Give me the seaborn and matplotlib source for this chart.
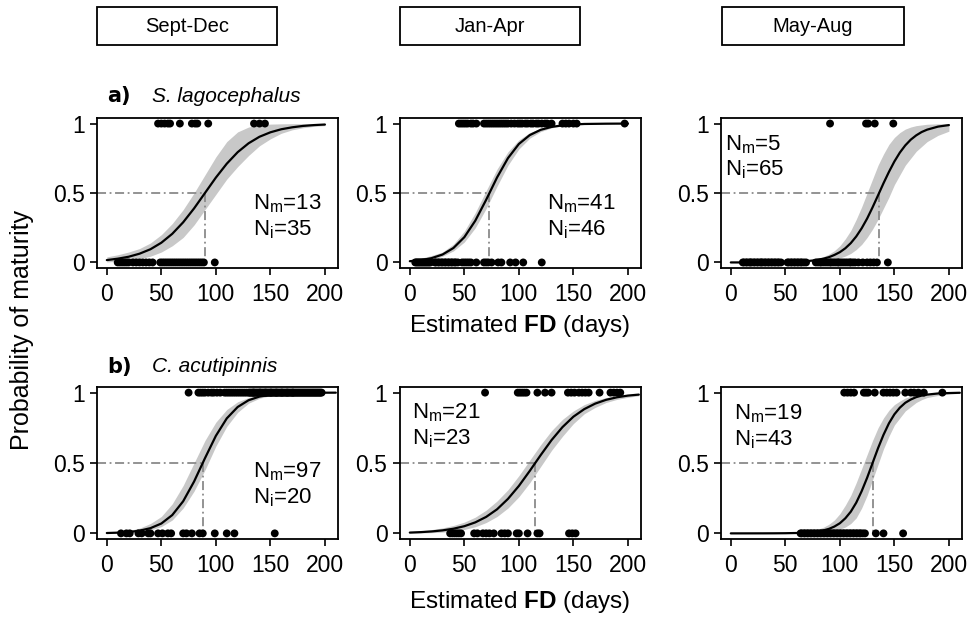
import matplotlib
matplotlib.use("Agg")
import matplotlib.pyplot as plt
import seaborn as sns
import pandas as pd
from matplotlib.patches import Rectangle

# ---- data ----
SEASONS = ["Sept-Dec", "Jan-Apr", "May-Aug"]
SPECIES = ["S. lagocephalus", "C. acutipinnis"]
PANEL_TAGS = ["a)", "b)"]

FD_TICKS = [0, 50, 100, 150, 200]
P_TICKS = [0, 0.5, 1]
P_TICK_LABELS = ["0", "0.5", "1"]

FD_GRID_A = [0, 10, 20, 30, 40, 50, 60, 70, 80, 90, 100, 110, 120, 130, 140, 150, 160, 170, 180, 190, 200]
FD_GRID_B = [0, 10, 20, 30, 40, 50, 60, 70, 80, 90, 100, 110, 120, 130, 140, 150, 160, 170, 180, 190, 200, 210]
# finer grids where the fitted curve is steep
FD_GRID_A3 = [0, 10, 20, 30, 40, 50, 60, 70, 75, 80, 85, 90, 95, 100, 105, 110, 115, 120, 125, 130, 135,
              140, 145, 150, 155, 160, 165, 170, 175, 180, 190, 200]
FD_GRID_B3 = [0, 10, 20, 30, 40, 50, 60, 70, 75, 80, 85, 90, 95, 100, 105, 110, 115, 120, 125, 130, 135,
              140, 145, 150, 155, 160, 165, 170, 175, 180, 190, 200, 210]

# S. lagocephalus
L50_A = [90, 73, 136]
NM_A = [13, 41, 5]
NI_A = [35, 46, 65]

FIT_A1 = [.017, .027, .041, .063, .095, .142, .206, .289, .389, .50, .611, .711, .794, .858, .905, .937, .959, .973, .983, .989, .993]
UPR_A1 = [.040, .055, .075, .10, .14, .20, .28, .38, .50, .63, .76, .87, .94, .975, .99, .996, .998, .999, .999, 1.0, 1.0]
LWR_A1 = [.004, .008, .015, .027, .045, .075, .12, .18, .27, .38, .49, .60, .69, .77, .84, .89, .93, .955, .97, .98, .985]

FIT_A2 = [.009, .016, .031, .057, .104, .182, .30, .451, .612, .751, .853, .917, .955, .976, .987, .993, .997, .998, .999, .9995, .9997]
UPR_A2 = [.02, .03, .05, .075, .132, .225, .358, .516, .672, .797, .882, .935, .965, .981, .99, .995, .997, .999, .999, 1.0, 1.0]
LWR_A2 = [.004, .008, .018, .045, .083, .147, .249, .388, .549, .70, .817, .895, .942, .969, .983, .991, .995, .997, .998, .999, .999]

FIT_A3 = [.0001, .0001, .0003, .0006, .0012, .0024, .0049, .0098, .0138, .0194, .0274, .038, .054, .074, .102,
          .139, .187, .246, .316, .397, .483, .570, .652, .727, .791, .843, .884, .915, .939, .956, .978, .989]
UPR_A3 = [.0005, .0008, .001, .002, .003, .005, .009, .016, .022, .03, .042, .06, .085, .12, .17,
          .23, .31, .40, .50, .60, .70, .78, .85, .90, .935, .96, .975, .985, .99, .995, .998, .999]
LWR_A3 = [0, 0, .0001, .0002, .0004, .0008, .0016, .003, .005, .007, .010, .015, .022, .032, .046,
          .065, .093, .13, .18, .24, .31, .39, .47, .56, .63, .70, .75, .80, .835, .87, .915, .945]

MAT_A1 = [47, 50, 53, 56, 58, 67, 78, 81, 83, 93, 135, 140, 145]
IMM_A1 = [10, 12, 14, 16, 18, 20, 24, 27, 30, 33, 36, 39, 42, 49, 51, 53, 55, 57, 59, 61, 63, 65, 67, 69,
          71, 73, 75, 77, 79, 81, 83, 85, 87, 89, 99]

MAT_A2 = [45, 47, 49, 51, 53, 56, 58, 61, 68, 70, 72, 74, 76, 78, 80, 82, 84, 86, 88, 90, 93, 96, 99, 101,
          103, 106, 108, 111, 113, 116, 118, 121, 124, 126, 130, 140, 143, 146, 150, 153, 197]
IMM_A2 = [5, 6, 7, 8, 9, 10, 11, 12, 13, 14, 15, 16, 17, 18, 19, 23, 24, 26, 27, 29, 30, 32, 33, 35, 36,
          38, 39, 41, 42, 44, 48, 50, 52, 54, 56, 61, 68, 70, 72, 75, 81, 84, 92, 97, 104, 121]

MAT_A3 = [91, 124, 126, 132, 149]
IMM_A3 = [11, 12, 14, 15, 17, 18, 19, 21, 22, 24, 25, 27, 28, 29, 31, 32, 34, 35, 37, 38, 40, 41, 43, 44, 46,
          52, 53, 55, 56, 58, 59, 61, 62, 64, 65, 67, 69,
          78, 80, 82, 83, 85, 87, 89, 91, 92, 94, 96, 98, 99, 101, 103, 105, 107, 109, 110, 112, 114,
          117, 121, 125, 128, 131, 134, 144]

# C. acutipinnis
L50_B = [88, 115, 130]
NM_B = [97, 21, 19]
NI_B = [20, 23, 43]

FIT_B1 = [.0025, .005, .0098, .019, .037, .070, .130, .228, .368, .534, .693, .817, .898, .946, .972, .985, .993, .996, .998, .999, .9995, .9997]
UPR_B1 = [.006, .011, .02, .037, .07, .12, .21, .34, .50, .66, .79, .88, .935, .965, .982, .991, .995, .998, .999, .999, 1.0, 1.0]
LWR_B1 = [.001, .002, .005, .011, .024, .048, .095, .18, .30, .45, .62, .76, .86, .925, .96, .978, .988, .993, .996, .998, .999, .9995]

FIT_B2 = [.0056, .0088, .0137, .0213, .033, .051, .078, .117, .171, .245, .337, .444, .556, .663, .755, .829, .883, .922, .949, .967, .979, .986]
UPR_B2 = [.012, .018, .027, .039, .056, .08, .115, .165, .23, .31, .41, .52, .63, .73, .81, .87, .915, .945, .965, .978, .986, .991]
LWR_B2 = [.002, .003, .005, .009, .016, .028, .047, .077, .12, .18, .26, .36, .475, .59, .69, .78, .85, .895, .93, .952, .967, .978]

FIT_B3 = [0, 0, .0001, .0002, .0005, .0011, .0026, .006, .0092, .014, .0213, .032, .0486, .072, .107,
          .154, .218, .30, .395, .50, .605, .70, .782, .846, .893, .928, .951, .968, .979, .986, .994, .997, .999]
UPR_B3 = [0, .0001, .0002, .0005, .001, .0025, .006, .013, .020, .03, .044, .065, .095, .14, .20,
          .27, .36, .46, .56, .66, .75, .82, .875, .915, .94, .962, .974, .983, .989, .993, .997, .999, .9995]
LWR_B3 = [0, 0, 0, .0001, .0001, .0003, .0008, .002, .0032, .005, .008, .012, .019, .03, .045,
          .07, .11, .18, .27, .38, .49, .60, .69, .77, .82, .87, .90, .93, .95, .965, .98, .99, .995]

MAT_B1 = [75, 84, 86, 88, 90, 93, 96, 98, 101, 104, 108, 110, 112, 114, 116, 118, 120, 122, 124, 126, 128,
          130, 131, 132, 133, 134, 135, 136, 137, 138, 139, 140, 141, 142, 143, 144, 145, 146, 147, 148, 149,
          150, 151, 152, 153, 154, 155, 156, 157, 158, 159, 160, 161, 162, 163, 164, 165, 166, 167, 168, 169,
          170, 171, 172, 173, 174, 175, 176, 177, 178, 179, 180, 181, 182, 183, 184, 185, 186, 187, 188, 189,
          190, 191, 192, 193, 194, 195, 196, 197,
          134.5, 140.5, 145.5, 150.5, 155.5, 160.5, 165.5, 170.5]
IMM_B1 = [13, 18, 21, 29, 32, 38, 40, 47, 51, 56, 59, 70, 73, 78, 85, 88, 99, 110, 117, 154]

MAT_B2 = [69, 99, 101, 103, 105, 107, 117, 124, 130, 145, 148, 151, 155, 158, 161, 164, 174, 184, 187, 190, 193]
IMM_B2 = [37, 39, 41, 43, 45, 47, 59, 62, 67, 70, 73, 77, 84, 87, 90, 98, 100, 108, 117, 119, 146, 149, 152]

MAT_B3 = [104, 107, 110, 113, 122, 124, 126, 132, 140, 143, 146, 149, 152, 160, 165, 168, 172, 177, 194]
IMM_B3 = [64, 65, 67, 68, 70, 71, 73, 74, 76, 77, 79, 80, 82, 83, 85, 86, 88, 89, 91, 92, 94, 95, 97, 98,
          100, 101, 103, 104, 106, 107, 109, 110, 112, 113, 115, 116, 118, 119, 121, 123, 133, 140, 158]

# ---- layout (pixels of a 968x619 canvas) ----
W, H = 968, 619
COL_LEFT = [97, 400, 721]
COL_W = 241
ROW_TOP = [118, 387]
ROW_BOT = [268, 539]
HEADER_BOX = [(97, 277), (400, 580), (722, 904)]
# where the N labels sit in each panel (data coords: x, y of first line, y of second line)
NTXT_POS = [[(134, 0.42, 0.235), (126, 0.42, 0.235), (-5, 0.85, 0.665)],
            [(134, 0.44, 0.255), (2, 0.86, 0.675), (3, 0.85, 0.665)]]


def fx(px):
    return px / W


def fy(py):
    return 1 - py / H


sns.set_style("ticks")
plt.rcParams["font.family"] = ["Liberation Sans", "DejaVu Sans"]
plt.rcParams["mathtext.fontset"] = "custom"
plt.rcParams["mathtext.rm"] = "Liberation Sans"
plt.rcParams["mathtext.it"] = "Liberation Sans:italic"
plt.rcParams["mathtext.bf"] = "Liberation Sans:bold"
for k in ["text.color", "axes.labelcolor", "xtick.color", "ytick.color", "axes.edgecolor"]:
    plt.rcParams[k] = "black"

fig = plt.figure(figsize=(W / 100, H / 100), dpi=100)

rows = [
    dict(grid=[FD_GRID_A, FD_GRID_A, FD_GRID_A3], l50=L50_A, nm=NM_A, ni=NI_A,
         fit=[FIT_A1, FIT_A2, FIT_A3], upr=[UPR_A1, UPR_A2, UPR_A3], lwr=[LWR_A1, LWR_A2, LWR_A3],
         mat=[MAT_A1, MAT_A2, MAT_A3], imm=[IMM_A1, IMM_A2, IMM_A3]),
    dict(grid=[FD_GRID_B, FD_GRID_B, FD_GRID_B3], l50=L50_B, nm=NM_B, ni=NI_B,
         fit=[FIT_B1, FIT_B2, FIT_B3], upr=[UPR_B1, UPR_B2, UPR_B3], lwr=[LWR_B1, LWR_B2, LWR_B3],
         mat=[MAT_B1, MAT_B2, MAT_B3], imm=[IMM_B1, IMM_B2, IMM_B3]),
]

for r, row in enumerate(rows):
    for c in range(3):
        ax = fig.add_axes([fx(COL_LEFT[c]), fy(ROW_BOT[r]), fx(COL_W), (ROW_BOT[r] - ROW_TOP[r]) / H])
        xmin, xmax = -9, 212
        grid = row["grid"][c]
        ax.fill_between(grid, row["lwr"][c], row["upr"][c], color="#c8c8c8", lw=0, zorder=1)
        l50 = row["l50"][c]
        ax.plot([xmin, l50], [0.5, 0.5], color="#8a8a8a", lw=1.3, dashes=(5, 2, 1, 2), zorder=2)
        ax.plot([l50, l50], [0.5, -0.01], color="#8a8a8a", lw=1.3, dashes=(5, 2, 1, 2), zorder=2)
        sns.lineplot(x=grid, y=row["fit"][c], color="black", lw=1.6, ax=ax, zorder=3)
        pts = pd.DataFrame({"fd": row["mat"][c] + row["imm"][c],
                            "mat": [1] * len(row["mat"][c]) + [0] * len(row["imm"][c])})
        sns.scatterplot(data=pts, x="fd", y="mat", color="black", s=32, edgecolor="none",
                        ax=ax, zorder=4, clip_on=False)
        ax.set_xlim(xmin, xmax)
        ax.set_ylim(-0.04, 1.04)
        ax.set_xticks(FD_TICKS)
        ax.set_yticks(P_TICKS)
        ax.set_yticklabels(P_TICK_LABELS)
        ax.set_xlabel("")
        ax.set_ylabel("")
        ax.tick_params(direction="out", length=5, width=1.2, labelsize=16.5, pad=4)
        ax.tick_params(axis="x", pad=6)
        for s in ax.spines.values():
            s.set_visible(True)
            s.set_linewidth(1.3)
            s.set_color("black")
        tx, ty1, ty2 = NTXT_POS[r][c]
        ax.text(tx, ty1, r"N$_\mathrm{m}$=%d" % row["nm"][c], fontsize=16, va="center", ha="left")
        ax.text(tx, ty2, r"N$_\mathrm{i}$=%d" % row["ni"][c], fontsize=16, va="center", ha="left")

# season header boxes
for (x0, x1), lab in zip(HEADER_BOX, SEASONS):
    fig.patches.append(Rectangle((fx(x0), fy(45)), fx(x1 - x0), 38 / H, transform=fig.transFigure,
                                 fill=False, edgecolor="black", lw=1.3))
    fig.text(fx((x0 + x1) / 2), fy(26), lab, ha="center", va="center", fontsize=14.5)

# species tags
for py, tag, sp in zip([96, 367], PANEL_TAGS, SPECIES):
    fig.text(fx(107), fy(py), tag, ha="left", va="center", fontsize=15, fontweight="bold",
             family="DejaVu Sans")
    fig.text(fx(152), fy(py), sp, ha="left", va="center", fontsize=15, style="italic")

fig.text(fx(22), fy(330), "Probability of maturity", rotation=90, ha="center", va="center", fontsize=18)
for py in [326, 602]:
    fig.text(fx(520), fy(py), r"Estimated $\mathbf{FD}$ (days)", ha="center", va="center", fontsize=17.5)

fig.savefig("out.png", dpi=100)
